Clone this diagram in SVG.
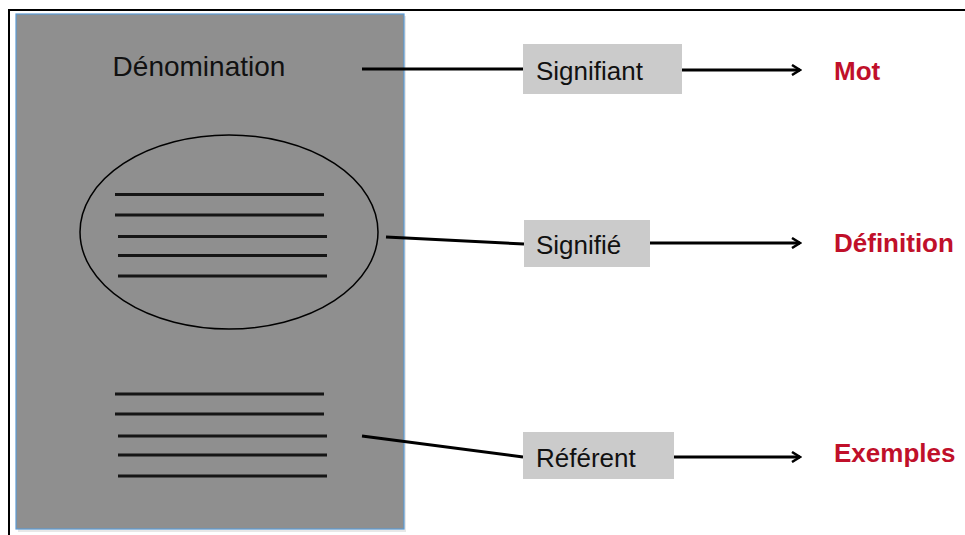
<svg xmlns="http://www.w3.org/2000/svg" width="965" height="535" viewBox="0 0 965 535">
<style>
.lbl{font-family:"Liberation Sans",Arial,sans-serif;font-size:26px;fill:#111}
.out{font-family:"Liberation Sans",Arial,sans-serif;font-size:26px;font-weight:bold;fill:#c0102a}
.bar{stroke:#151515;stroke-width:3;stroke-linecap:butt}
.conn{stroke:#000;stroke-width:3;fill:none}
.box{fill:#cbcbcb}
</style>
<defs>
<marker id="arr" viewBox="0 0 12 12" refX="10" refY="6" markerWidth="12" markerHeight="12" markerUnits="userSpaceOnUse" orient="auto">
<path d="M2,1 L10,6 L2,11" fill="none" stroke="#000" stroke-width="2.5"/>
</marker>
</defs>
<rect width="965" height="535" fill="#fff"/>
<path d="M9,535 V10 H965" fill="none" stroke="#000" stroke-width="2"/>
<g id="page">
<rect x="18" y="16" width="388" height="516" fill="#d8d8d8" opacity="0.6"/>
<rect x="16" y="14" width="388" height="515" fill="#8f8f8f" stroke="#5b9bd5" stroke-width="1.2"/>
<text class="lbl" x="199" y="76" text-anchor="middle" style="font-size:28px">Dénomination</text>
<ellipse cx="229" cy="232" rx="149" ry="97" fill="none" stroke="#000" stroke-width="1.5"/>
<line class="bar" x1="115" y1="194.5" x2="324" y2="194.5"/>
<line class="bar" x1="115" y1="215" x2="324" y2="215"/>
<line class="bar" x1="118" y1="236.5" x2="327" y2="236.5"/>
<line class="bar" x1="118" y1="255.5" x2="327" y2="255.5"/>
<line class="bar" x1="118" y1="276" x2="327" y2="276"/>
<line class="bar" x1="115" y1="394" x2="324" y2="394"/>
<line class="bar" x1="115" y1="414" x2="324" y2="414"/>
<line class="bar" x1="118" y1="436" x2="327" y2="436"/>
<line class="bar" x1="118" y1="455" x2="327" y2="455"/>
<line class="bar" x1="118" y1="476" x2="327" y2="476"/>
</g>
<g id="connectors">
<line class="conn" x1="362" y1="69" x2="524" y2="69"/>
<line class="conn" x1="682" y1="70" x2="800" y2="70" marker-end="url(#arr)"/>
<line class="conn" x1="386" y1="237" x2="524" y2="244"/>
<line class="conn" x1="650" y1="243" x2="800" y2="243" marker-end="url(#arr)"/>
<line class="conn" x1="362" y1="436" x2="523" y2="457"/>
<line class="conn" x1="674" y1="457" x2="800" y2="457" marker-end="url(#arr)"/>
</g>
<g id="signifiant">
<rect class="box" x="523" y="44" width="159" height="50"/>
<text class="lbl" x="536" y="80">Signifiant</text>
</g>
<g id="signifie">
<rect class="box" x="524" y="220" width="126" height="47"/>
<text class="lbl" x="536" y="254">Signifié</text>
</g>
<g id="referent">
<rect class="box" x="523" y="432" width="151" height="47"/>
<text class="lbl" x="536" y="467">Référent</text>
</g>
<g id="mot"><text class="out" x="834" y="80">Mot</text></g>
<g id="definition"><text class="out" x="834" y="252">Définition</text></g>
<g id="exemples"><text class="out" x="834" y="462">Exemples</text></g>
</svg>
